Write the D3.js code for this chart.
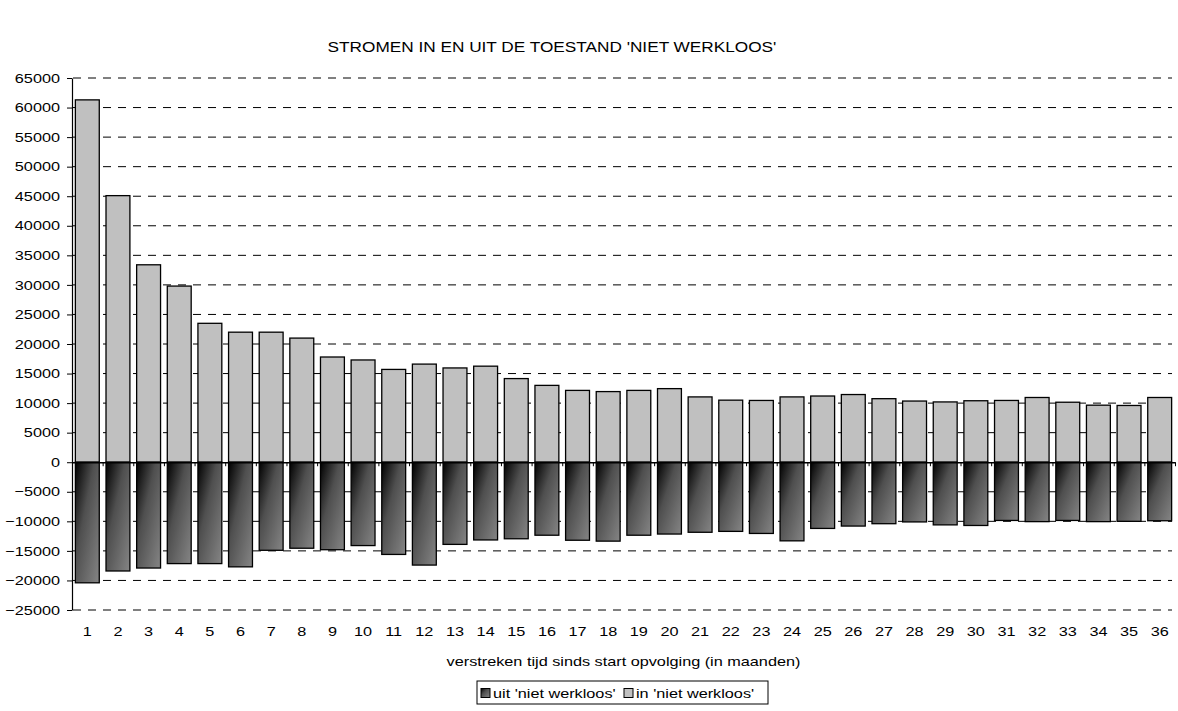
<!DOCTYPE html>
<html>
<head>
<meta charset="utf-8">
<script src="https://cdn.jsdelivr.net/npm/d3@7"></script>
<style>
  body { margin: 0; background: #fff; }
  text { font-family: "Liberation Sans", Arial, sans-serif; fill: #000; }
</style>
</head>
<body>
<div id="vis"></div>
<script>
// months since start of follow-up
const months = d3.range(1, 37).map(String);

// flows into 'niet werkloos' (positive)
const inValues = [61300, 45100, 33400, 29800, 23500, 22000, 22000, 21000, 17800, 17300,
  15700, 16600, 15950, 16250, 14150, 13000, 12150, 11950, 12150, 12450,
  11050, 10500, 10450, 11050, 11200, 11450, 10750, 10350, 10200, 10400,
  10450, 10950, 10150, 9650, 9600, 10950];

// flows out of 'niet werkloos' (negative)
const outValues = [-20400, -18400, -17900, -17150, -17150, -17700, -14900, -14550, -14800, -14100,
  -15600, -17400, -13900, -13150, -12950, -12350, -13200, -13350, -12350, -12150,
  -11850, -11700, -12050, -13300, -11200, -10800, -10400, -10100, -10600, -10700,
  -9850, -10050, -9850, -10050, -10000, -9900];

const yTicks = d3.range(-25000, 65001, 5000);

const title = "STROMEN IN EN UIT DE TOESTAND 'NIET WERKLOOS'";
const xTitle = "verstreken tijd sinds start opvolging (in maanden)";
const legendLabels = ["uit 'niet werkloos'", "in 'niet werkloos'"];

const width = 1178, height = 711;
const margin = { left: 72, right: 3, top: 78, bottom: 101 };
const sx = 1.25; // text in the original is stretched horizontally

const svg = d3.select('#vis').append('svg')
  .attr('width', width)
  .attr('height', height);

const defs = svg.append('defs');
const grad = defs.append('linearGradient')
  .attr('id', 'darkGrad')
  .attr('x1', 0).attr('y1', 0).attr('x2', 1).attr('y2', 1);
grad.append('stop').attr('offset', 0).attr('stop-color', '#000');
grad.append('stop').attr('offset', 0.4).attr('stop-color', '#4f4f4f');
grad.append('stop').attr('offset', 1).attr('stop-color', '#858585');

const x = d3.scaleBand()
  .domain(months)
  .range([margin.left, width - margin.right])
  .paddingInner(0.22)
  .paddingOuter(0.11);

const y = d3.scaleLinear()
  .domain([-25000, 65000])
  .range([height - margin.bottom, margin.top]);

// dashed gridlines
svg.append('g')
  .selectAll('line')
  .data(yTicks.filter(d => d !== 0))
  .join('line')
  .attr('x1', margin.left + 1)
  .attr('x2', width - 6)
  .attr('y1', d => y(d))
  .attr('y2', d => y(d))
  .style('stroke', '#000')
  .style('stroke-width', 1)
  .style('stroke-dasharray', '8,7');

// bars
svg.append('g')
  .selectAll('rect')
  .data(months)
  .join('rect')
  .attr('x', d => x(d))
  .attr('width', x.bandwidth())
  .attr('y', (d, i) => y(inValues[i]))
  .attr('height', (d, i) => y(0) - y(inValues[i]))
  .style('fill', '#c0c0c0')
  .style('stroke', '#000')
  .style('stroke-width', 1.3);

svg.append('g')
  .selectAll('rect')
  .data(months)
  .join('rect')
  .attr('x', d => x(d))
  .attr('width', x.bandwidth())
  .attr('y', y(0))
  .attr('height', (d, i) => y(outValues[i]) - y(0))
  .style('fill', 'url(#darkGrad)')
  .style('stroke', '#000')
  .style('stroke-width', 1.3);

// y axis
const yAxis = svg.append('g')
  .attr('transform', `translate(${margin.left},0)`)
  .call(d3.axisLeft(y).tickValues(yTicks).tickFormat(d3.format('d')).tickSize(5).tickSizeOuter(0));
yAxis.selectAll('text')
  .attr('x', 0)
  .attr('transform', `translate(-12,0) scale(${sx},1)`)
  .style('font-size', '13px')
  .style('font-family', '"Liberation Sans", Arial, sans-serif');
yAxis.select('.domain').style('stroke-width', 1.2);

// zero line with category boundary ticks
const xb = d3.scaleLinear().domain([0, 36]).range([margin.left, width - margin.right]);
const zeroAxis = svg.append('g')
  .attr('transform', `translate(0,${y(0)})`)
  .call(d3.axisBottom(xb).ticks(36).tickSize(4).tickSizeOuter(0).tickFormat(''));
zeroAxis.select('.domain').style('stroke-width', 1.5);

// category labels
const xAxis = svg.append('g')
  .attr('transform', `translate(0,${y(-25000)})`)
  .call(d3.axisBottom(x).tickSize(0).tickPadding(17));
xAxis.select('.domain').remove();
xAxis.selectAll('text')
  .attr('transform', `scale(${sx},1)`)
  .attr('x', 0)
  .style('font-size', '13px')
  .style('font-family', '"Liberation Sans", Arial, sans-serif');

// title
svg.append('text')
  .attr('transform', 'translate(552,52) scale(1.23,1)')
  .attr('text-anchor', 'middle')
  .style('font-size', '14px')
  .text(title);

// x axis title
const plotMid = (margin.left + width - margin.right) / 2;
svg.append('text')
  .attr('transform', `translate(${plotMid},666) scale(${sx},1)`)
  .attr('text-anchor', 'middle')
  .style('font-size', '13px')
  .text(xTitle);

// legend
const legend = svg.append('g').attr('transform', 'translate(477,681)');
legend.append('rect')
  .attr('width', 291).attr('height', 23)
  .style('fill', '#fff').style('stroke', '#000').style('stroke-width', 1);
const legendFills = ['url(#darkGrad)', '#c0c0c0'];
const legendX = [4, 147];
legend.selectAll('g.item')
  .data(legendLabels)
  .join('g')
  .attr('class', 'item')
  .attr('transform', (d, i) => `translate(${legendX[i]},0)`)
  .each(function(d, i) {
    const g = d3.select(this);
    g.append('rect')
      .attr('x', 0).attr('y', 7.5).attr('width', 9).attr('height', 9)
      .style('fill', legendFills[i]).style('stroke', '#000').style('stroke-width', 1);
    g.append('text')
      .attr('transform', `translate(12,16.5) scale(${sx},1)`)
      .style('font-size', '13px')
      .text(d);
  });
</script>
</body>
</html>
